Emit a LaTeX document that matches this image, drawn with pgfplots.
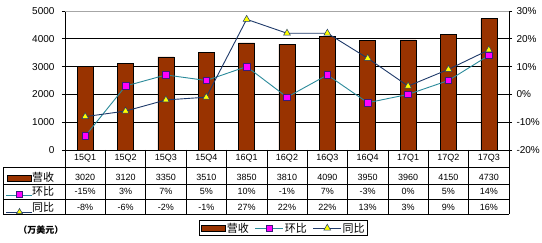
\documentclass[border=0pt]{standalone}
\usepackage{pgfplots}
\pgfplotsset{compat=1.18}
\usepackage{pgfplotstable}
\usepackage{fontspec}
\setmainfont{Liberation Sans}
\newfontfamily\cjk{Noto Sans CJK SC}
\definecolor{barc}{HTML}{993300}
\definecolor{hbline}{HTML}{2A8A9A}
\definecolor{tbline}{HTML}{1F3A6A}
\definecolor{sqedge}{HTML}{3A1A7A}
\definecolor{sqfill}{HTML}{FF00FF}
\definecolor{trfill}{HTML}{FFFF00}

\pgfplotstableread{
i q rev hb tb
0 15Q1 3020 -15 -8
1 15Q2 3120 3 -6
2 15Q3 3350 7 -2
3 15Q4 3510 5 -1
4 16Q1 3850 10 27
5 16Q2 3810 -1 22
6 16Q3 4090 7 22
7 16Q4 3950 -3 13
8 17Q1 3960 0 3
9 17Q2 4150 5 9
10 17Q3 4730 14 16
}\data

\begin{document}
\begin{tikzpicture}[x=1pt,y=1pt]
\useasboundingbox (0,0) rectangle (542,243);
\begin{axis}[at={(65pt,93pt)}, anchor=south west, scale only axis,
  width=444pt, height=139pt,
  xmin=-0.5, xmax=10.5, ymin=0, ymax=5000, xtick=\empty,
  axis x line*=bottom, axis y line*=left,
  ytick={0,1000,...,5000}, ymajorgrids, grid style={black, line width=0.6pt},
  tick align=outside, major tick length=3pt, tick style={black, line width=0.6pt},
  axis line style={black, line width=0.6pt, -},
  /pgf/number format/assume math mode=true,
  yticklabel style={font=\fontsize{10}{12}\selectfont, xshift=-4pt},
  scaled y ticks=false,
  yticklabel={\pgfmathprintnumber[set thousands separator={}]{\tick}},
  clip=false]
\addplot[ybar, bar width=16pt, fill=barc, draw=black, line width=0.5pt] table[x=i,y=rev]{\data};
\draw[gray!70, line width=0.6pt] (rel axis cs:0,1) -- (rel axis cs:1,1);
\addplot[draw=none, point meta=explicit symbolic, nodes near coords,
  nodes near coords style={anchor=center, font=\fontsize{9}{10}\selectfont, inner sep=0pt}]
  table[x=i, y expr=-299, meta=q]{\data};
\addplot[draw=none, point meta=explicit symbolic, nodes near coords,
  nodes near coords style={anchor=center, font=\fontsize{9}{10}\selectfont, inner sep=0pt}]
  table[x=i, y expr=-989, meta=rev]{\data};
\addplot[draw=none, point meta=explicit symbolic, nodes near coords={\pgfplotspointmeta\%},
  nodes near coords style={anchor=center, font=\fontsize{9}{10}\selectfont, inner sep=0pt}]
  table[x=i, y expr=-1500, meta=hb]{\data};
\addplot[draw=none, point meta=explicit symbolic, nodes near coords={\pgfplotspointmeta\%},
  nodes near coords style={anchor=center, font=\fontsize{9}{10}\selectfont, inner sep=0pt}]
  table[x=i, y expr=-2068, meta=tb]{\data};
\end{axis}

\begin{axis}[at={(65pt,93pt)}, anchor=south west, scale only axis,
  width=444pt, height=139pt,
  xmin=-0.5, xmax=10.5, ymin=-20, ymax=30, ytick={-20,-10,...,30},
  axis x line=none, axis y line*=right,
  tick align=outside, major tick length=3pt, tick style={black, line width=0.6pt},
  axis line style={black, line width=0.6pt, -},
  /pgf/number format/assume math mode=true,
  yticklabel style={font=\fontsize{10}{12}\selectfont, xshift=1pt},
  yticklabel={\pgfmathprintnumber{\tick}\%},
  clip=false,
  legend columns=3,
  legend style={at={(0.3018,-0.6187)}, anchor=south west, draw=black, line width=0.8pt,
    font=\cjk\fontsize{11}{12}\selectfont, inner xsep=2pt, inner ysep=1pt,
    nodes={inner xsep=1pt, inner ysep=1pt},
    /tikz/every even column/.append style={column sep=5pt}},
  legend image code/.code={\draw[mark repeat=2,mark phase=2,#1] plot coordinates {(0pt,0pt) (14pt,0pt) (28pt,0pt)};}]
\addlegendimage{legend image code/.code={\draw[fill=barc, draw=black, line width=0.5pt] (0pt,-3.3pt) rectangle (24pt,3.3pt);}}
\addlegendentry{营收}
\addplot[hbline, line width=0.9pt, mark=square*, mark size=3.3pt,
  mark options={fill=sqfill, draw=sqedge, line width=0.6pt}] table[x=i,y=hb]{\data};
\addlegendentry{环比}
\addplot[tbline, line width=0.9pt, mark=triangle*, mark size=4pt,
  mark options={fill=trfill, draw=tbline, line width=0.5pt}] table[x=i,y=tb]{\data};
\addlegendentry{同比}
\end{axis}

% data table grid
\begin{scope}[line width=0.6pt, black]
\foreach \k in {0,...,11} {\draw (65+40.3636*\k, 93) -- (65+40.3636*\k, 28.7);}
\foreach \yy in {75.3,59,43.7,28.7} {\draw (3.3,\yy) -- (509,\yy);}
\draw (3.3,75.3) -- (3.3,28.7);
\end{scope}
% row keys
\draw[fill=barc, draw=black, line width=0.5pt] (7.3,61.3) rectangle (31.7,68);
\node[anchor=west, inner sep=0pt, font=\cjk\fontsize{11}{12}\selectfont] at (32,65.3) {营收};
\draw[hbline, line width=0.9pt] (6,48) -- (31.7,48);
\draw[fill=sqfill, draw=sqedge, line width=0.6pt] (16.5,45.5) rectangle (22.5,51.5);
\node[anchor=west, inner sep=0pt, font=\cjk\fontsize{11}{12}\selectfont] at (32,51.3) {环比};
\draw[tbline, line width=0.9pt] (6,31) -- (31.7,31);
\draw[fill=trfill, draw=tbline, line width=0.5pt] (16.5,29.3) -- (22.5,29.3) -- (19.5,34.5) -- cycle;
\node[anchor=west, inner sep=0pt, font=\cjk\fontsize{11}{12}\selectfont] at (32,35.5) {同比};
\node[font=\cjk\bfseries\fontsize{9}{10}\selectfont, inner sep=0pt] at (41,13) {（万美元）};
\end{tikzpicture}
\end{document}
